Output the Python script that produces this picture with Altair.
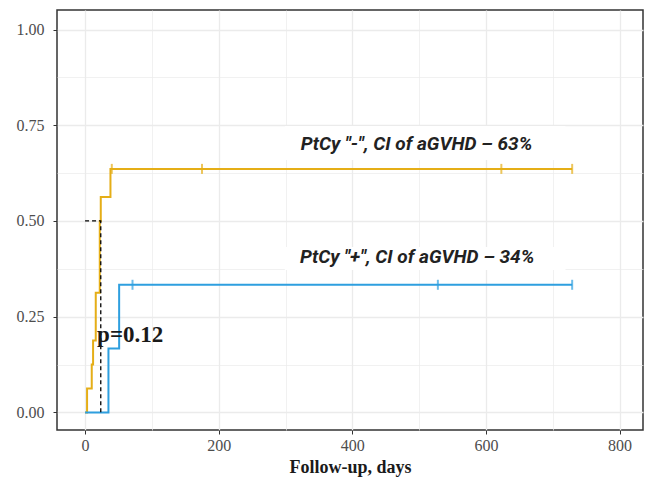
import altair as alt
import pandas as pd

# ---- data ----
groups = ['PtCy "-"', 'PtCy "+"']
colors = ["#E5AE17", "#2E9FDF"]

gold_days = [0, 3, 10, 12, 16, 22, 23.5, 38, 729]
gold_cif = [0, 0.0625, 0.125, 0.1875, 0.3125, 0.5, 0.5625, 0.636, 0.636]
blue_days = [0, 35, 51, 729]
blue_cif = [0, 0.1667, 0.3333, 0.3333]

gold_censor_days = [40, 175, 623, 729]
gold_censor_cif = [0.636, 0.636, 0.636, 0.636]
blue_censor_days = [71, 528, 729]
blue_censor_cif = [0.3333, 0.3333, 0.3333]

median_days = [0, 23.5, 23.5]
median_cif = [0.5, 0.5, 0]

labels = ['PtCy "-", CI of aGVHD \u2013 63%', 'PtCy "+", CI of aGVHD \u2013 34%']
pval_text = "p=0.12"

x_ticks = [0, 100, 200, 300, 400, 500, 600, 700, 800]
y_ticks = [0, 0.125, 0.25, 0.375, 0.5, 0.625, 0.75, 0.875, 1.0]

# ---- tables ----
curves = pd.concat([
    pd.DataFrame({"day": gold_days, "cif": gold_cif, "group": groups[0], "o": range(len(gold_days))}),
    pd.DataFrame({"day": blue_days, "cif": blue_cif, "group": groups[1], "o": range(len(blue_days))}),
])
censors = pd.concat([
    pd.DataFrame({"day": gold_censor_days, "cif": gold_censor_cif, "group": groups[0]}),
    pd.DataFrame({"day": blue_censor_days, "cif": blue_censor_cif, "group": groups[1]}),
])
median = pd.DataFrame({"day": median_days, "cif": median_cif, "o": range(3)})

label_df = pd.DataFrame({
    "text": labels,
    "x": [496, 497],
    "y": [0.702, 0.407],
    "bx0": [299, 299], "bx1": [719, 719],
    "by0": [0.659, 0.372], "by1": [0.748, 0.432],
})
pval_df = pd.DataFrame({"text": [pval_text], "x": [18], "y": [0.184]})

serif = "Liberation Serif"
xscale = alt.Scale(domain=[-42, 835], nice=False, zero=False)
yscale = alt.Scale(domain=[-0.046, 1.051], nice=False, zero=False)
cscale = alt.Scale(domain=groups, range=colors)

x_major = "datum.value % 200 === 0"
y_major = "(datum.value * 4) % 1 === 0"

xaxis = alt.Axis(
    values=x_ticks,
    labelExpr=f"{x_major} ? datum.label : ''",
    title="Follow-up, days",
    titleFont=serif, titleFontSize=18, titleFontWeight="bold", titleColor="#1a1a1a",
    titlePadding=5,
    labelFont=serif, labelFontSize=16, labelColor="#4d4d4d", labelPadding=3,
    tickColor="#333333", tickSize=4, tickWidth=1,
    tickOpacity={"condition": {"test": x_major, "value": 1}, "value": 0},
    domain=False,
    gridColor="#EBEBEB",
    gridWidth={"condition": {"test": x_major, "value": 1.3}, "value": 0.7},
)
yaxis = alt.Axis(
    values=y_ticks,
    format=".2f",
    labelExpr=f"{y_major} ? datum.label : ''",
    title=None,
    labelFont=serif, labelFontSize=16, labelColor="#4d4d4d", labelPadding=9,
    tickColor="#333333", tickSize=4, tickWidth=1,
    tickOpacity={"condition": {"test": y_major, "value": 1}, "value": 0},
    domain=False,
    gridColor="#EBEBEB",
    gridWidth={"condition": {"test": y_major, "value": 1.3}, "value": 0.7},
)

base_x = alt.X("day:Q", scale=xscale, axis=xaxis)
base_y = alt.Y("cif:Q", scale=yscale, axis=yaxis)

boxes = alt.Chart(label_df).mark_rect(color="white").encode(
    x=alt.X("bx0:Q", scale=xscale, axis=xaxis), x2="bx1:Q",
    y=alt.Y("by0:Q", scale=yscale, axis=yaxis), y2="by1:Q",
)

lines = alt.Chart(curves).mark_line(interpolate="step-after", strokeWidth=2).encode(
    x=base_x, y=base_y,
    color=alt.Color("group:N", scale=cscale, legend=None),
    order="o:Q",
)

ticks = alt.Chart(censors).mark_tick(orient="vertical", size=10, thickness=2).encode(
    x=base_x, y=base_y,
    color=alt.Color("group:N", scale=cscale, legend=None),
)

med = alt.Chart(median).mark_line(color="black", strokeWidth=1.3, strokeDash=[4, 3]).encode(
    x=base_x, y=base_y, order="o:Q",
)

label_text = alt.Chart(label_df).mark_text(
    font="Roboto",
    fontStyle="italic", fontWeight="bold", fontSize=19, color="#222222",
    align="center", baseline="middle",
).encode(
    x=alt.X("x:Q", scale=xscale, axis=xaxis), y=alt.Y("y:Q", scale=yscale, axis=yaxis), text="text:N",
)

pval = alt.Chart(pval_df).mark_text(
    font=serif, fontWeight="bold", fontSize=23, color="#1a1a1a",
    align="left", baseline="alphabetic",
).encode(
    x=alt.X("x:Q", scale=xscale, axis=xaxis), y=alt.Y("y:Q", scale=yscale, axis=yaxis), text="text:N",
)

chart = alt.layer(boxes, lines, ticks, med, label_text, pval).properties(
    width=586, height=420,
    autosize=alt.AutoSizeParams(type="none"),
    padding={"left": 49, "top": 2, "right": 2, "bottom": 48},
).configure_view(
    stroke="#333333", strokeWidth=1.5, fill="white",
)

chart.save("out.html", embed_options={"renderer": "svg", "actions": False})
